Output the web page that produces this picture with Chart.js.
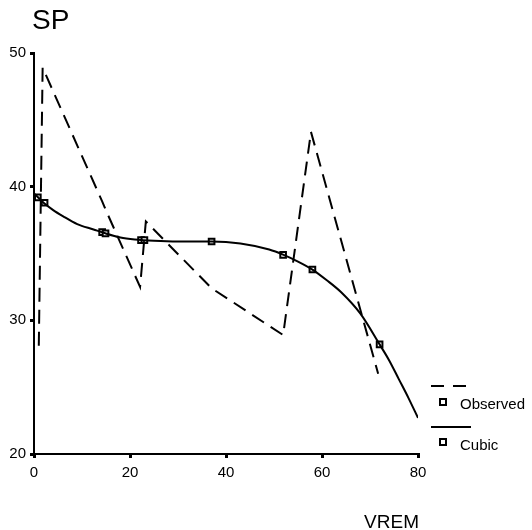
<!DOCTYPE html>
<html>
<head>
<meta charset="utf-8">
<script src="https://cdn.jsdelivr.net/npm/chart.js@4/dist/chart.umd.min.js"></script>
<style>
  html, body { margin: 0; padding: 0; background: #fff; }
  #wrap { width: 532px; height: 530px; position: relative; }
</style>
</head>
<body>
<div id="wrap"><canvas id="c" width="532" height="530"></canvas></div>
<script>
// Observed series (dashed)
const obsX = [1, 1.8, 14.2, 14.9, 22.1, 23.3, 37, 51.9, 57.7, 71.7];
const obsY = [28.1, 48.9, 38.9, 38.3, 32.5, 37.4, 32.4, 28.9, 44.1, 26.0];
// Cubic fit curve
const cubicX = [0, 2, 4, 6, 9, 12.4, 14.5, 18, 21, 25, 30, 37, 43, 49, 52, 55, 58, 61, 64, 68, 72, 74, 76, 78, 80];
const cubicY = [39.5, 38.8, 38.25, 37.8, 37.2, 36.8, 36.55, 36.2, 36.05, 35.95, 35.9, 35.9, 35.75, 35.3, 34.9, 34.4, 33.8, 33.0, 32.1, 30.5, 28.2, 27.0, 25.6, 24.2, 22.7];
// Cubic values at the observed x positions (square markers)
const markX = [0.8, 2.2, 14.2, 14.9, 22.3, 23.0, 37, 51.9, 58, 72];
const markY = [39.2, 38.8, 36.6, 36.5, 36.0, 36.0, 35.9, 34.9, 33.8, 28.2];
// Axes
const xTicks = [0, 20, 40, 60, 80];
const yTicks = [20, 30, 40, 50];
const legendLabels = ['Observed', 'Cubic'];
const yTitle = 'SP';
const xTitle = 'VREM';

const FONT = '"Liberation Sans", Arial, sans-serif';

const pts = (xs, ys) => xs.map((x, i) => ({ x: x, y: ys[i] }));

const extras = {
  id: 'extras',
  afterDraw(chart) {
    const ctx = chart.ctx;
    ctx.save();
    ctx.fillStyle = '#000';
    ctx.textBaseline = 'alphabetic';
    ctx.font = '28px ' + FONT;
    ctx.textAlign = 'left';
    ctx.fillText(yTitle, 32, 29);
    ctx.font = '19px ' + FONT;
    ctx.textAlign = 'right';
    ctx.fillText(xTitle, 419, 528);
    // legend
    ctx.strokeStyle = '#000';
    ctx.lineWidth = 2;
    ctx.setLineDash([13, 9]);
    ctx.beginPath(); ctx.moveTo(431, 386); ctx.lineTo(471, 386); ctx.stroke();
    ctx.setLineDash([]);
    ctx.beginPath(); ctx.moveTo(431, 427); ctx.lineTo(471, 427); ctx.stroke();
    ctx.lineWidth = 2;
    ctx.fillStyle = '#fff';
    [402, 442].forEach(y => { ctx.fillRect(440, y - 3, 6, 6); ctx.strokeRect(440, y - 3, 6, 6); });
    ctx.fillStyle = '#000';
    ctx.font = '15px ' + FONT;
    ctx.textAlign = 'left';
    ctx.textBaseline = 'middle';
    ctx.fillText(legendLabels[0], 460, 405);
    ctx.fillText(legendLabels[1], 460, 446);
    ctx.restore();
  }
};

new Chart(document.getElementById('c'), {
  type: 'line',
  data: {
    datasets: [
      { label: legendLabels[0], data: pts(obsX, obsY), borderColor: '#000', borderWidth: 2,
        borderDash: [14, 8], pointRadius: 0, tension: 0, fill: false },
      { label: legendLabels[1], data: pts(cubicX, cubicY), borderColor: '#000', borderWidth: 2,
        pointRadius: 0, cubicInterpolationMode: 'monotone', fill: false },
      { label: 'markers', data: pts(markX, markY), showLine: false, pointStyle: 'rect',
        pointRadius: 4, borderColor: '#000', backgroundColor: '#fff', pointBorderWidth: 2 }
    ]
  },
  options: {
    responsive: false,
    animation: false,
    layout: { padding: { left: 0, top: 53, right: 114, bottom: 0 } },
    plugins: { legend: { display: false }, tooltip: { enabled: false }, title: { display: false } },
    scales: {
      x: {
        type: 'linear', min: 0, max: 80,
        afterBuildTicks: s => { s.ticks = xTicks.map(v => ({ value: v })); },
        afterFit: s => { s.height = 76; },
        grid: { display: true, drawOnChartArea: false, drawTicks: true, tickLength: 4, lineWidth: 3, color: '#000' },
        border: { display: true, color: '#000', width: 2 },
        ticks: { color: '#000', font: { family: FONT, size: 15 }, padding: 6, maxRotation: 0 }
      },
      y: {
        type: 'linear', min: 20, max: 50,
        afterBuildTicks: s => { s.ticks = yTicks.map(v => ({ value: v })); },
        afterFit: s => { s.width = 34; },
        grid: { display: true, drawOnChartArea: false, drawTicks: true, tickLength: 4, lineWidth: 3, color: '#000' },
        border: { display: true, color: '#000', width: 2 },
        ticks: { color: '#000', font: { family: FONT, size: 15 }, padding: 4 }
      }
    }
  },
  plugins: [extras]
});
</script>
</body>
</html>
